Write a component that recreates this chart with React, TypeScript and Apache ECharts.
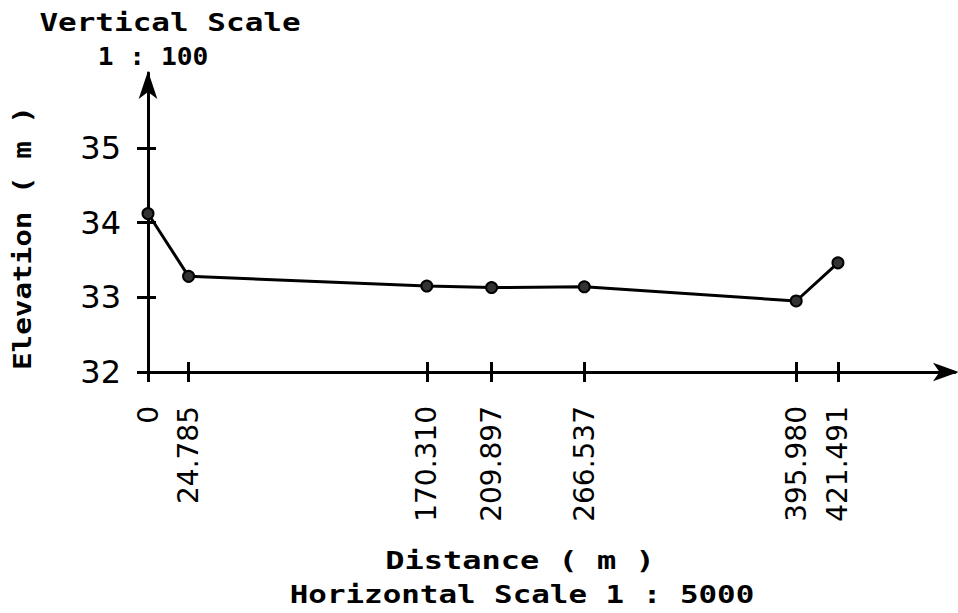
import React, { useEffect, useRef } from "react";
import * as echarts from "echarts";

const distances = [0, 24.785, 170.31, 209.897, 266.537, 395.98, 421.491];
const elevations = [34.12, 33.28, 33.15, 33.13, 33.14, 32.95, 33.46];
const xTickLabels = ["0", "24.785", "170.310", "209.897", "266.537", "395.980", "421.491"];
const yTicks = [32, 33, 34, 35];

const FONT = "DejaVu Sans";
const MONO = "DejaVu Sans Mono";

export default function App() {
  const ref = useRef<HTMLDivElement>(null);
  useEffect(() => {
    if (!ref.current) return;
    const chart = echarts.init(ref.current, null, { renderer: "svg" });
    const baseX = {
      type: "value",
      min: 0,
      max: 493,
      position: "bottom",
      splitLine: { show: false },
      axisLine: { show: false },
    };
    const label = (text: string, x: number, y: number, size: number, sx: number, rot = 0) => ({
      type: "text",
      x,
      y,
      rotation: rot,
      scaleX: sx,
      style: {
        text,
        fontFamily: MONO,
        fontWeight: "bold",
        fontSize: size,
        fill: "#000",
        textAlign: "center",
        textVerticalAlign: "middle",
      },
    });
    chart.setOption({
      animation: false,
      backgroundColor: "#fff",
      grid: { left: 148, right: 3, top: 73, bottom: 241, containLabel: false },
      xAxis: [
        {
          ...baseX,
          axisLine: {
            show: true,
            lineStyle: { color: "#000", width: 3 },
            symbol: ["none", "arrow"],
            symbolSize: [14, 26],
            symbolOffset: [0, 4],
          },
          axisTick: {
            show: true,
            customValues: distances,
            length: 10,
            lineStyle: { color: "#000", width: 3 },
          },
          axisLabel: {
            show: true,
            customValues: distances,
            rotate: 90,
            margin: 34,
            color: "#000",
            fontFamily: FONT,
            fontSize: 28,
            formatter: (v: number) => {
              const i = distances.indexOf(v);
              return i >= 0 ? xTickLabels[i] : "";
            },
          },
        },
        {
          ...baseX,
          axisTick: {
            show: true,
            inside: true,
            customValues: distances,
            length: 10,
            lineStyle: { color: "#000", width: 3 },
          },
          axisLabel: { show: false },
        },
      ],
      yAxis: [
        {
          type: "value",
          min: 32,
          max: 36,
          interval: 1,
          splitLine: { show: false },
          axisLine: {
            show: true,
            lineStyle: { color: "#000", width: 3 },
            symbol: ["none", "arrow"],
            symbolSize: [14, 28],
            symbolOffset: [0, 2],
          },
          axisTick: {
            show: true,
            customValues: yTicks,
            length: 11,
            lineStyle: { color: "#000", width: 3 },
          },
          axisLabel: {
            show: true,
            customValues: yTicks,
            margin: 27,
            color: "#000",
            fontFamily: FONT,
            fontSize: 32,
            padding: [0, 0, 6, 0],
          },
        },
        {
          type: "value",
          min: 32,
          max: 36,
          interval: 1,
          position: "left",
          splitLine: { show: false },
          axisLine: { show: false },
          axisTick: {
            show: true,
            inside: true,
            customValues: yTicks,
            length: 8,
            lineStyle: { color: "#000", width: 3 },
          },
          axisLabel: { show: false },
        },
      ],
      series: [
        {
          type: "line",
          data: distances.map((d, i) => [d, elevations[i]]),
          lineStyle: { color: "#000", width: 3 },
          symbol: "circle",
          symbolSize: 11,
          itemStyle: { color: "#333", borderColor: "#000", borderWidth: 2 },
          z: 5,
        },
      ],
      graphic: [
        label("Vertical Scale", 170, 23, 25, 1.24),
        label("1 : 100", 153, 56, 25, 1.05),
        label("Elevation ( m )", 22, 238, 25, 1.17, Math.PI / 2),
        label("Distance ( m )", 520, 560, 25, 1.28),
        label("Horizontal Scale 1 : 5000", 522, 595, 25, 1.235),
      ],
    });
    return () => chart.dispose();
  }, []);
  return (
    <div
      ref={ref}
      style={{ position: "fixed", left: 0, top: 0, width: 958, height: 613 }}
    />
  );
}
